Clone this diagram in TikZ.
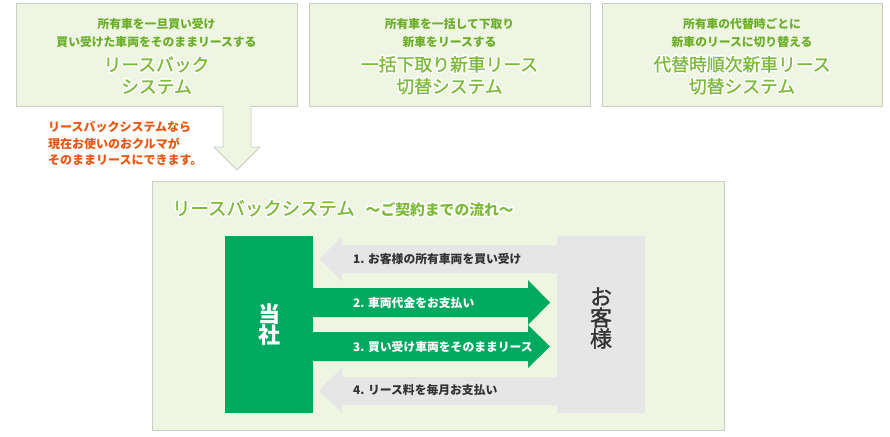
\documentclass[tikz,border=0pt]{standalone}
\usepackage{fontspec}
\newfontfamily\jp{Noto Sans CJK JP}
\newfontfamily\jpmed[FakeBold=1.2]{Noto Sans CJK JP}
\usepackage{contour}
\contourlength{1.4pt}
\contournumber{16}
\definecolor{boxfill}{HTML}{EEF5E2}
\definecolor{boxline}{HTML}{C9CEC0}
\definecolor{smallgreen}{HTML}{6CAE2A}
\definecolor{biggreen}{HTML}{7DBA3C}
\definecolor{dgreen}{HTML}{00A960}
\definecolor{lgray}{HTML}{E6E6E6}
\definecolor{orangetxt}{HTML}{E8560F}
\definecolor{darktxt}{HTML}{333333}
\tikzset{
  panel/.style={draw=boxline, fill=boxfill, line width=0.8pt, anchor=north west, inner sep=0pt},
  smalltxt/.style={text=smallgreen, font=\jp\bfseries\fontsize{11.8}{18}\selectfont, align=center, inner sep=0pt},
  bigtxt/.style={text=biggreen, font=\jpmed\fontsize{17.8}{22}\selectfont, align=center, inner sep=0pt},
  lbl/.style={font=\jp\bfseries\fontsize{11.8}{13}\selectfont, anchor=west, inner sep=0pt},
}
\newcommand{\glow}[1]{\contour{white}{#1}}
\begin{document}
\begin{tikzpicture}[x=1pt,y=-1pt]
\useasboundingbox (0,0) rectangle (890,436);
% top panels
\node[panel, minimum width=281pt, minimum height=103pt] (p1) at (16,3) {};
\node[panel, minimum width=281pt, minimum height=103pt] (p2) at (309,3) {};
\node[panel, minimum width=280pt, minimum height=103pt] (p3) at (602,3) {};
\node[smalltxt] (s1) at (156.5,33) {所有車を一旦買い受け\\買い受けた車両をそのままリースする};
\node[bigtxt] (b1) at (156.5,76) {\glow{リースバック}\\\glow{システム}};
\node[smalltxt] (s2) at (449.5,33) {所有車を一括して下取り\\新車をリースする};
\node[bigtxt] (b2) at (449.5,76) {\glow{一括下取り新車リース}\\\glow{切替システム}};
\node[smalltxt] (s3) at (742,33) {所有車の代替時ごとに\\新車のリースに切り替える};
\node[bigtxt] (b3) at (742,76) {\glow{代替時順次新車リース}\\\glow{切替システム}};
% down arrow
\fill[boxfill] (223,105) -- (223,147) -- (214,147) -- (237,170) -- (260,147) -- (251,147) -- (251,105) -- cycle;
\draw[boxline, line width=0.8pt, line join=miter] (223,106) -- (223,147) -- (214,147) -- (237,170) -- (260,147) -- (251,147) -- (251,106);
% orange text
\node[text=orangetxt, font=\jp\bfseries\fontsize{12}{16.5}\selectfont, align=left, anchor=west, inner sep=0pt] (note) at (48,143.5) {リースバックシステムなら\\現在お使いのおクルマが\\そのままリースにできます。};
% main panel
\node[panel, minimum width=572pt, minimum height=249pt] (main) at (152,181) {};
\node[anchor=west, inner sep=0pt] (title) at (172,209) {\textcolor{biggreen}{\jpmed\fontsize{18.4}{20}\selectfont\glow{リースバックシステム}\hspace{11pt}\jp\bfseries\fontsize{14.8}{20}\selectfont\glow{～ご契約までの流れ～}}};
% arrows
\fill[lgray] (560,245) -- (342,245) -- (342,237) -- (319,259) -- (342,281) -- (342,273) -- (560,273) -- cycle;
\fill[lgray] (560,377) -- (342,377) -- (342,368) -- (319,390.5) -- (342,413) -- (342,405) -- (560,405) -- cycle;
\fill[dgreen] (310,288) -- (528,288) -- (528,280) -- (550,302.5) -- (528,325) -- (528,317) -- (310,317) -- cycle;
\fill[dgreen] (310,332) -- (528,332) -- (528,325) -- (550,346.5) -- (528,368) -- (528,361) -- (310,361) -- cycle;
% blocks
\node[fill=dgreen, minimum width=88pt, minimum height=177pt, anchor=north west, inner sep=0pt] (tosha) at (225,236) {};
\node[fill=lgray, minimum width=88pt, minimum height=177pt, anchor=north west, inner sep=0pt] (kyaku) at (557,236) {};
\node[text=white, font=\jp\bfseries\fontsize{22}{20.5}\selectfont, align=center, inner sep=0pt] (toshatxt) at (tosha.center) {当\\社};
\node[text=darktxt, font=\jpmed\fontsize{22}{21}\selectfont, align=center, inner sep=0pt] (kyakutxt) at (601,318) {お\\客\\様};
% labels
\node[lbl, text=darktxt] (l1) at (353,259) {1. お客様の所有車両を買い受け};
\node[lbl, text=white] (l2) at (353,302.5) {2. 車両代金をお支払い};
\node[lbl, text=white] (l3) at (353,346.5) {3. 買い受け車両をそのままリース};
\node[lbl, text=darktxt] (l4) at (353,390.5) {4. リース料を毎月お支払い};
\end{tikzpicture}
\end{document}
